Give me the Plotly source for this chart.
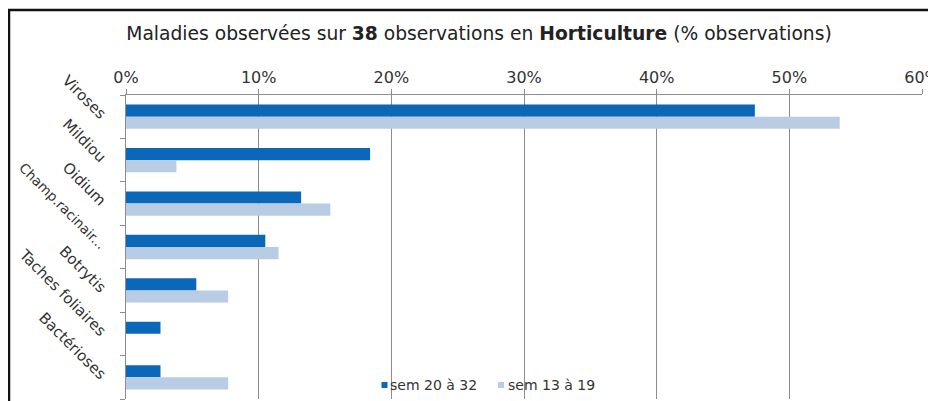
import plotly.graph_objects as go

# Données (% des observations)
categories = ["Viroses", "Mildiou", "Oidium", "Champ.racinair...",
              "Botrytis", "Taches foliaires", "Bactérioses"]
sem_20_32 = [47.4, 18.4, 13.2, 10.5, 5.3, 2.6, 2.6]
sem_13_19 = [53.8, 3.8, 15.4, 11.5, 7.7, 0.0, 7.7]
series_names = ["sem 20 à 32", "sem 13 à 19"]
tick_vals = [0, 10, 20, 30, 40, 50, 60]
tick_text = ["0%", "10%", "20%", "30%", "40%", "50%", "60%"]

FONT = "DejaVu Sans, Verdana, sans-serif"
DARK = "#0b67b8"
LIGHT = "#b8cce4"

# la page a une marge de 8px : figure de 928x393 pour remplir la fenêtre
W, H = 928, 393
L, R, T, B = 118, 14, 87, 2
PW, PH = W - L - R, H - T - B


def px(x):
    return (x - L) / PW


def py(y):
    return (H - B - y) / PH


# le libellé tronqué est un peu réduit pour rester dans le cadre
cat_labels = [f'<span style="font-size:13.5px">{c}</span>' if c.endswith("...") else c
              for c in categories]

fig = go.Figure()

fig.add_trace(go.Bar(
    y=categories, x=sem_20_32, orientation="h",
    name=series_names[0], marker=dict(color=DARK, line=dict(width=0)),
))
fig.add_trace(go.Bar(
    y=categories, x=sem_13_19, orientation="h",
    name=series_names[1], marker=dict(color=LIGHT, line=dict(width=0)),
))

# cadre noir autour du graphique
fig.add_shape(type="rect", xref="paper", yref="paper",
              x0=px(1), x1=1.1, y0=-0.1, y1=py(2),
              line=dict(color="#111111", width=2.5), layer="above")

# légende façon Excel : petit carré collé au texte
for name, col, mx, tx in [(series_names[0], DARK, 376.5, 380),
                          (series_names[1], LIGHT, 493, 498)]:
    fig.add_shape(type="rect", xref="paper", yref="paper",
                  xsizemode="pixel", ysizemode="pixel",
                  xanchor=px(mx), yanchor=py(377),
                  x0=-3, x1=3, y0=-3, y1=3,
                  fillcolor=col, line=dict(width=0), layer="above")
    fig.add_annotation(xref="paper", yref="paper", x=px(tx), y=py(377),
                       text=name, showarrow=False, xanchor="left", yanchor="middle",
                       font=dict(family=FONT, size=14, color="#333333"))

fig.update_layout(
    width=W, height=H,
    margin=dict(l=L, r=R, t=T, b=B),
    paper_bgcolor="white", plot_bgcolor="white",
    barmode="group", bargap=0.44, bargroupgap=0,
    showlegend=False,
    font=dict(family=FONT, size=16, color="#333333"),
    title=dict(
        text="Maladies observées sur <b>38</b> observations en <b>Horticulture</b> (% observations)",
        font=dict(family=FONT, size=18.7, color="#222222"),
        x=471 / W, xanchor="center", y=1 - 25 / H, yanchor="middle",
    ),
    xaxis=dict(
        side="top", range=[0, 60], tickvals=tick_vals, ticktext=tick_text,
        showgrid=True, gridcolor="#8c8c8c", gridwidth=1,
        showline=True, linecolor="#8c8c8c", linewidth=1,
        ticks="outside", ticklen=5, tickcolor="#8c8c8c",
        tickfont=dict(size=16, color="#333333"), zeroline=False,
        automargin=False, ticklabeloverflow="allow",
    ),
    yaxis=dict(
        autorange="reversed", tickangle=45,
        tickvals=categories, ticktext=cat_labels,
        showline=True, linecolor="#8c8c8c", linewidth=1,
        ticks="outside", ticklen=5, tickcolor="#8c8c8c",
        tickson="boundaries", showgrid=False,
        tickfont=dict(size=15, color="#333333"),
        ticklabelstandoff=17,
        automargin=False,
    ),
)

fig.write_html("out.html")
